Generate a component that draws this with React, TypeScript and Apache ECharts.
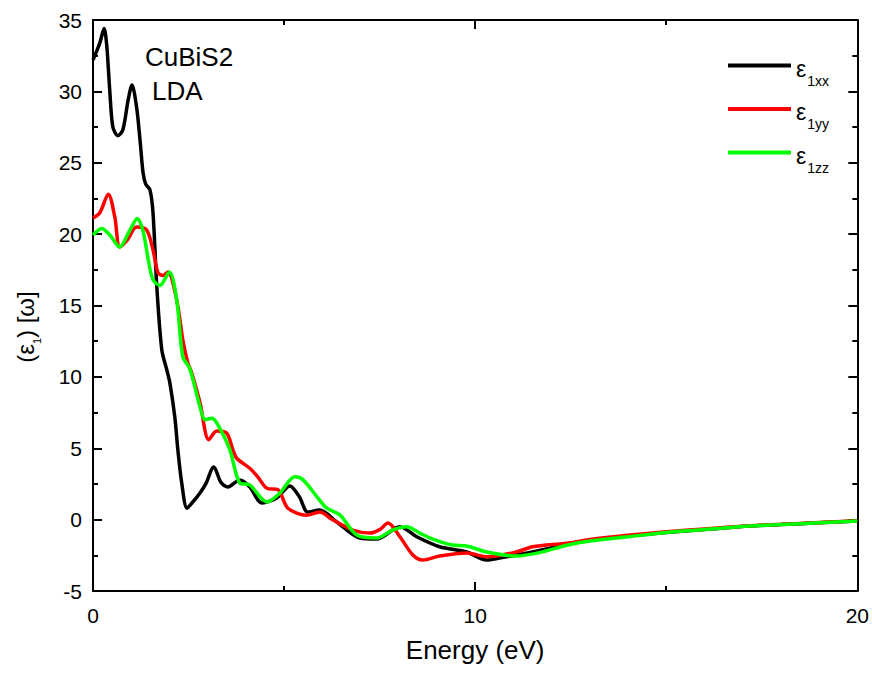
import React, { useEffect, useRef } from "react";
import * as echarts from "echarts";

const energyXX = [0, 0.18, 0.29, 0.36, 0.44, 0.52, 0.65, 0.78, 0.92, 1.02, 1.14, 1.23, 1.31, 1.38, 1.49, 1.57, 1.67, 1.8, 1.93, 2.01, 2.14, 2.22, 2.32, 2.46, 2.6, 2.8, 2.95, 3.16, 3.35, 3.53, 3.84, 4.1, 4.42, 4.8, 5.15, 5.4, 5.62, 5.93, 6.38, 6.98, 7.42, 8.03, 8.47, 9.07, 9.78, 10.3, 10.64, 11.08, 11.95, 12.4, 13, 14, 15, 16, 17.2, 18, 19, 20];
const epsXX = [32.2, 33.4, 34.4, 33.2, 30.0, 27.5, 26.9, 27.3, 29.4, 30.45, 28.9, 26.6, 24.3, 23.5, 23.1, 21.5, 16.3, 11.9, 10.5, 9.6, 7.2, 4.9, 2.6, 0.8, 1.2, 1.87, 2.5, 3.69, 2.6, 2.29, 2.78, 2.3, 1.17, 1.5, 2.36, 1.6, 0.53, 0.67, -0.17, -1.29, -1.36, -0.5, -1.2, -1.9, -2.27, -2.83, -2.69, -2.48, -2.0, -1.7, -1.45, -1.15, -0.9, -0.7, -0.45, -0.35, -0.22, -0.1];

const energyYY = [0, 0.18, 0.4, 0.57, 0.7, 0.9, 1.14, 1.4, 1.57, 1.7, 1.83, 1.96, 2.19, 2.35, 2.48, 2.58, 2.8, 3.03, 3.24, 3.5, 3.66, 3.76, 4.1, 4.31, 4.55, 4.84, 5.1, 5.59, 5.93, 6.28, 6.8, 7.24, 7.5, 7.72, 8.03, 8.37, 8.63, 9.07, 9.78, 10.3, 11.08, 11.5, 12.4, 13, 14, 15, 16, 17.2, 18, 19, 20];
const epsYY = [21.13, 21.5, 22.8, 21.2, 19.1, 19.6, 20.5, 20.3, 18.9, 17.3, 17.1, 17.35, 15.4, 12.6, 11.0, 10.3, 8.2, 5.6, 6.2, 6.05, 4.9, 4.3, 3.6, 3.0, 2.2, 2.1, 0.8, 0.3, 0.53, -0.03, -0.73, -0.94, -0.7, -0.24, -1.2, -2.48, -2.83, -2.55, -2.34, -2.6, -2.27, -1.9, -1.65, -1.4, -1.1, -0.85, -0.65, -0.43, -0.33, -0.2, -0.08];

const energyZZ = [0, 0.23, 0.45, 0.7, 0.95, 1.16, 1.31, 1.46, 1.57, 1.75, 2.0, 2.19, 2.35, 2.53, 2.8, 2.93, 3.11, 3.32, 3.58, 3.84, 4.1, 4.55, 4.89, 5.28, 5.49, 5.86, 6.12, 6.46, 6.9, 7.42, 7.84, 8.21, 8.55, 8.89, 9.41, 9.78, 10.3, 11.08, 11.7, 12.4, 13, 14, 15, 16, 17.2, 18, 19, 20];
const epsZZ = [19.94, 20.4, 19.9, 19.1, 20.2, 21.1, 20.2, 18.0, 16.8, 16.4, 17.35, 15.4, 11.4, 10.6, 7.9, 7.0, 7.1, 6.4, 4.9, 2.57, 2.43, 1.24, 1.86, 3.0, 2.8, 1.6, 0.8, 0.33, -1.08, -1.29, -0.73, -0.5, -0.94, -1.36, -1.78, -1.85, -2.27, -2.55, -2.3, -1.8, -1.5, -1.2, -0.9, -0.7, -0.45, -0.35, -0.22, -0.1];

const seriesNames = ["ε1xx", "ε1yy", "ε1zz"];
const seriesColors = ["#000000", "#ff0000", "#00ff00"];

const FONT = "'Liberation Sans', Arial, sans-serif";

function zip(xs: number[], ys: number[]) {
  return xs.map((x, i) => [x, ys[i]]);
}

const tickCommon = (interval: number, min: number, max: number, showLabel: boolean) => ({
  type: "value" as const,
  min,
  max,
  interval,
  splitLine: { show: false },
  minorSplitLine: { show: false },
  axisLine: { show: true, onZero: false, lineStyle: { color: "#000", width: 2 } },
  axisTick: { show: true, inside: true, length: 9, lineStyle: { color: "#000", width: 2 } },
  minorTick: { show: true, splitNumber: 2, length: 5, lineStyle: { color: "#000", width: 2 } },
  axisLabel: { show: showLabel, color: "#000", fontSize: 21, fontFamily: FONT },
});

export default function App() {
  const ref = useRef<HTMLDivElement>(null);
  useEffect(() => {
    if (!ref.current) return;
    const chart = echarts.init(ref.current, undefined, { renderer: "svg" });
    const datasets = [zip(energyXX, epsXX), zip(energyYY, epsYY), zip(energyZZ, epsZZ)];
    chart.setOption({
      animation: false,
      backgroundColor: "#fff",
      grid: { left: 93, right: 14, top: 20, bottom: 82 },
      xAxis: [
        {
          ...tickCommon(10, 0, 20, true),
          position: "bottom",
          axisLabel: { show: true, color: "#000", fontSize: 21, fontFamily: FONT, margin: 14 },
          name: "Energy (eV)",
          nameLocation: "middle",
          nameGap: 46,
          nameTextStyle: { color: "#000", fontSize: 26, fontFamily: FONT },
        },
        { ...tickCommon(10, 0, 20, false), position: "top" },
      ],
      yAxis: [
        {
          ...tickCommon(5, -5, 35, true),
          position: "left",
          axisLabel: { show: true, color: "#000", fontSize: 21, fontFamily: FONT, margin: 11 },
        },
        { ...tickCommon(5, -5, 35, false), position: "right" },
      ],
      legend: {
        orient: "vertical",
        left: 723,
        top: 46,
        itemWidth: 63,
        itemHeight: 4,
        itemGap: 7,
        icon: "rect",
        data: seriesNames,
        formatter: (name: string) => `{e|${name.charAt(0)}}{s|${name.slice(1)}}`,
        textStyle: {
          color: "#000",
          fontFamily: FONT,
          rich: {
            e: { fontSize: 23, lineHeight: 44, verticalAlign: "middle", padding: [6, 0, 0, 0], fontFamily: FONT, color: "#000" },
            s: { fontSize: 14, lineHeight: 14, verticalAlign: "bottom", padding: [0, 0, 0, 1], fontFamily: FONT, color: "#000" },
          },
        },
      },
      graphic: [
        {
          type: "text",
          left: 145,
          top: 44,
          style: { text: "CuBiS2", fontSize: 26, fontFamily: FONT, fill: "#000" },
        },
        {
          type: "text",
          left: 152,
          top: 78,
          style: { text: "LDA", fontSize: 26, fontFamily: FONT, fill: "#000" },
        },
        {
          type: "text",
          x: 25,
          y: 327,
          rotation: Math.PI / 2,
          style: {
            text: "{p|(ε}{s|1}{p|) [ω]}",
            align: "center",
            verticalAlign: "middle",
            fontFamily: FONT,
            fill: "#000",
            rich: {
              p: { fontSize: 24, lineHeight: 34, verticalAlign: "middle", fontFamily: FONT, fill: "#000" },
              s: { fontSize: 11, lineHeight: 11, verticalAlign: "bottom", fontFamily: FONT, fill: "#000" },
            },
          },
        },
      ],
      series: datasets.map((d, i) => ({
        name: seriesNames[i],
        type: "line",
        xAxisIndex: 0,
        yAxisIndex: 0,
        data: d,
        smooth: 0.3,
        showSymbol: false,
        symbol: "none",
        color: seriesColors[i],
        lineStyle: { color: seriesColors[i], width: 3.5 },
        z: 3 + i,
      })),
    });
    return () => chart.dispose();
  }, []);
  return (
    <div
      ref={ref}
      style={{ position: "fixed", left: 0, top: 0, width: 872, height: 673, background: "#fff" }}
    />
  );
}
